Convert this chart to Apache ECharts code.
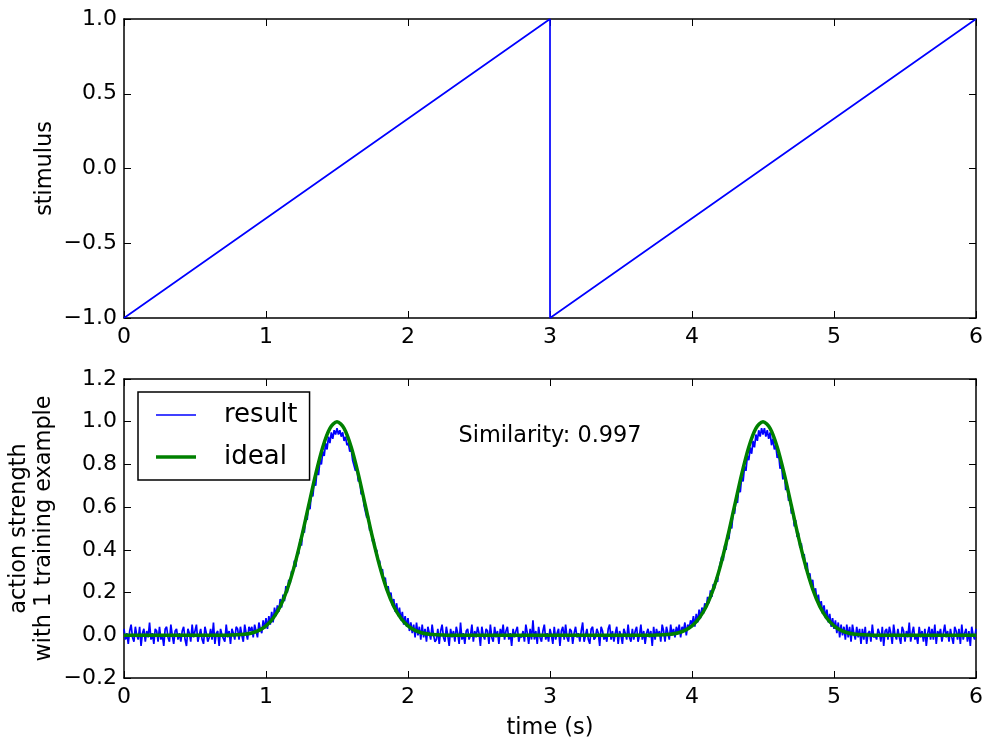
<!DOCTYPE html>
<html>
<head>
<meta charset="utf-8">
<title>stimulus / action strength</title>
<script src="https://cdn.jsdelivr.net/npm/echarts@6/dist/echarts.min.js"></script>
<style>
    html, body { margin: 0; padding: 0; background: #fff; }
    #main { width: 992px; height: 748px; }
</style>
</head>
<body>
<div id="main"></div>
<script>
// top panel: sawtooth stimulus
var stimTime  = [0, 3, 3, 6];
var stimValue = [-1, 1, -1, 1];

// bottom panel: ideal response, sampled every 0.05 s
var idealStep = 0.05;
var idealValue = [
    0, 0, 0, 0, 0, 0, 0, 0, 0, 0,
    0, 0, 0, 0, 0, 0.001, 0.002, 0.005, 0.011, 0.023,
    0.044, 0.080, 0.135, 0.216, 0.325, 0.458, 0.607, 0.755, 0.882, 0.969,
    1.000, 0.969, 0.882, 0.755, 0.607, 0.458, 0.325, 0.216, 0.135, 0.080,
    0.044, 0.023, 0.011, 0.005, 0.002, 0.001, 0, 0, 0, 0,
    0, 0, 0, 0, 0, 0, 0, 0, 0, 0,
    0, 0, 0, 0, 0, 0, 0, 0, 0, 0,
    0, 0, 0, 0, 0, 0.001, 0.002, 0.005, 0.011, 0.023,
    0.044, 0.080, 0.135, 0.216, 0.325, 0.458, 0.607, 0.755, 0.882, 0.969,
    1.000, 0.969, 0.882, 0.755, 0.607, 0.458, 0.325, 0.216, 0.135, 0.080,
    0.044, 0.023, 0.011, 0.005, 0.002, 0.001, 0, 0, 0, 0,
    0, 0, 0, 0, 0, 0, 0, 0, 0, 0,
    0
];

// bottom panel: measured (noisy) result, sampled every 0.01 s
var resultStep = 0.01;
var resultValue = [
    // 0.0 - 0.8 s
    0.03, -0.02, 0.01, -0.04, 0.02, 0.05, -0.01, -0.03, 0.04, 0.00,
    -0.02, 0.04, -0.05, 0.01, 0.03, -0.03, 0.02, -0.01, 0.06, -0.02,
    0.01, -0.04, 0.03, 0.02, -0.03, 0.04, -0.02, 0.00, -0.05, 0.03,
    0.04, -0.01, -0.03, 0.05, 0.00, -0.04, 0.02, 0.03, -0.02, 0.01,
    -0.03, 0.02, 0.04, -0.02, -0.05, 0.03, 0.01, -0.03, 0.05, -0.01,
    0.02, 0.05, -0.03, 0.00, 0.03, -0.02, -0.04, 0.04, 0.01, -0.03,
    -0.01, 0.03, -0.02, 0.06, -0.04, 0.01, 0.02, -0.05, 0.03, 0.00,
    0.00, -0.03, 0.05, -0.01, 0.02, -0.04, 0.03, 0.01, -0.02, 0.04,
    // 0.8 - 2.2 s, first peak
    0.03, -0.02, 0.04, 0.00, -0.03, 0.05, 0.01, -0.02, 0.04, 0.02,
    0.04, -0.01, 0.05, 0.02, -0.01, 0.06, 0.03, 0.01, 0.07, 0.03,
    0.08, 0.03, 0.09, 0.05, 0.11, 0.06, 0.13, 0.09, 0.14, 0.11,
    0.17, 0.13, 0.19, 0.16, 0.23, 0.20, 0.26, 0.24, 0.30, 0.29,
    0.35, 0.32, 0.39, 0.38, 0.45, 0.42, 0.50, 0.48, 0.56, 0.54,
    0.61, 0.59, 0.67, 0.65, 0.72, 0.70, 0.78, 0.75, 0.82, 0.80,
    0.86, 0.84, 0.90, 0.87, 0.93, 0.90, 0.95, 0.92, 0.96, 0.94,
    0.97, 0.94, 0.96, 0.93, 0.95, 0.91, 0.93, 0.89, 0.90, 0.86,
    0.87, 0.82, 0.82, 0.77, 0.78, 0.72, 0.73, 0.66, 0.67, 0.61,
    0.61, 0.55, 0.56, 0.49, 0.50, 0.44, 0.45, 0.39, 0.40, 0.34,
    0.35, 0.29, 0.31, 0.25, 0.27, 0.21, 0.23, 0.18, 0.20, 0.14,
    0.17, 0.11, 0.15, 0.09, 0.13, 0.07, 0.11, 0.05, 0.09, 0.04,
    0.08, 0.02, 0.06, 0.01, 0.05, -0.01, 0.06, 0.00, 0.04, -0.02,
    0.05, -0.01, 0.03, -0.03, 0.04, 0.01, -0.02, 0.05, 0.00, -0.03,
    // 2.2 - 3.8 s
    -0.02, 0.03, -0.04, 0.02, 0.05, -0.01, -0.03, 0.04, 0.00, -0.05,
    0.03, -0.01, 0.02, -0.03, 0.04, 0.01, -0.04, 0.06, -0.02, 0.01,
    -0.04, 0.02, 0.03, -0.02, 0.00, 0.05, -0.03, 0.02, -0.01, 0.04,
    0.01, -0.05, 0.04, 0.00, -0.02, 0.03, 0.02, -0.04, 0.05, -0.01,
    -0.03, 0.04, -0.01, 0.02, -0.04, 0.03, 0.00, 0.05, -0.02, 0.02,
    0.04, -0.02, 0.01, -0.05, 0.03, -0.01, 0.02, 0.04, -0.03, 0.00,
    -0.01, 0.02, -0.03, 0.05, 0.01, -0.04, 0.03, -0.02, 0.07, -0.02,
    0.02, -0.04, 0.04, -0.01, -0.03, 0.02, 0.05, -0.02, 0.01, -0.03,
    0.03, 0.00, -0.04, 0.04, -0.02, 0.01, 0.03, -0.05, 0.02, 0.04,
    -0.02, 0.05, -0.01, -0.03, 0.03, 0.02, -0.04, 0.01, 0.04, -0.01,
    0.01, -0.03, 0.02, 0.06, -0.03, 0.00, 0.03, -0.02, -0.04, 0.03,
    0.04, -0.02, -0.01, 0.03, 0.01, -0.05, 0.04, 0.02, -0.02, 0.00,
    -0.03, 0.03, 0.05, -0.02, 0.02, -0.03, 0.01, 0.04, -0.04, 0.02,
    0.00, -0.04, 0.03, 0.01, -0.02, 0.05, -0.01, -0.03, 0.03, -0.02,
    0.02, 0.04, -0.03, 0.00, 0.05, -0.02, 0.02, -0.04, 0.01, 0.03,
    -0.01, 0.02, -0.05, 0.04, -0.02, 0.03, 0.00, 0.02, -0.03, 0.05,
    // 3.8 - 5.2 s, second peak
    0.02, -0.03, 0.04, 0.01, -0.02, 0.05, 0.00, 0.03, -0.01, 0.04,
    0.01, 0.05, -0.01, 0.04, 0.02, 0.06, 0.00, 0.05, 0.03, 0.07,
    0.05, 0.09, 0.04, 0.10, 0.06, 0.12, 0.08, 0.13, 0.10, 0.15,
    0.13, 0.18, 0.15, 0.21, 0.18, 0.24, 0.22, 0.27, 0.25, 0.31,
    0.31, 0.37, 0.35, 0.42, 0.40, 0.47, 0.45, 0.52, 0.50, 0.58,
    0.57, 0.64, 0.62, 0.69, 0.67, 0.74, 0.72, 0.79, 0.77, 0.84,
    0.82, 0.88, 0.85, 0.91, 0.88, 0.94, 0.91, 0.96, 0.93, 0.97,
    0.94, 0.97, 0.93, 0.96, 0.92, 0.95, 0.89, 0.92, 0.87, 0.89,
    0.83, 0.85, 0.78, 0.80, 0.73, 0.76, 0.68, 0.70, 0.63, 0.64,
    0.57, 0.59, 0.51, 0.54, 0.46, 0.48, 0.41, 0.43, 0.36, 0.38,
    0.31, 0.34, 0.27, 0.29, 0.23, 0.26, 0.19, 0.22, 0.16, 0.19,
    0.13, 0.16, 0.10, 0.14, 0.08, 0.12, 0.06, 0.10, 0.04, 0.08,
    0.03, 0.07, 0.01, 0.06, -0.01, 0.05, 0.00, 0.04, -0.02, 0.05,
    -0.01, 0.04, -0.03, 0.05, 0.01, -0.02, 0.04, -0.01, 0.03, -0.04,
    // 5.2 - 6.0 s
    0.03, -0.02, 0.04, -0.04, 0.01, 0.02, -0.03, 0.05, -0.01, 0.00,
    -0.02, 0.03, 0.01, -0.03, 0.04, -0.05, 0.02, 0.03, -0.02, 0.04,
    0.01, -0.04, 0.05, 0.00, -0.02, 0.03, -0.01, -0.04, 0.04, 0.02,
    -0.03, 0.02, -0.01, 0.06, -0.03, 0.01, 0.04, -0.02, 0.00, -0.04,
    0.04, -0.01, 0.02, -0.03, 0.03, -0.05, 0.01, 0.04, -0.02, 0.03,
    -0.02, 0.05, -0.04, 0.02, 0.00, 0.03, -0.03, 0.01, 0.05, -0.01,
    0.02, -0.03, 0.03, -0.01, -0.04, 0.04, 0.02, -0.02, 0.03, -0.04,
    0.05, -0.02, 0.01, 0.03, -0.03, 0.02, -0.05, 0.04, 0.00, -0.02,
    0.03
];

var similarityText = 'Similarity: 0.997';
var similarityAt = [3, 0.93];

var FONT = 'DejaVu Sans';

function pairs(step, values) {
    return values.map(function (v, i) { return [+(i * step).toFixed(3), v]; });
}

// matplotlib-like frame: inward ticks on all four sides
function xAx(grid, pos, show) {
    return {
        type: 'value', gridIndex: grid, position: pos, min: 0, max: 6, interval: 1,
        axisLine: { show: true, onZero: false, lineStyle: { color: '#000', width: 1.5 } },
        axisTick: { show: true, inside: true, length: 7, lineStyle: { color: '#000', width: 1 } },
        axisLabel: { show: show, color: '#000', fontSize: 22, fontFamily: FONT, margin: 8 },
        splitLine: { show: false }
    };
}
function yAx(grid, pos, show, min, max, step, digits) {
    return {
        type: 'value', gridIndex: grid, position: pos, min: min, max: max, interval: step,
        axisLine: { show: true, onZero: false, lineStyle: { color: '#000', width: 1.5 } },
        axisTick: { show: true, inside: true, length: 7, lineStyle: { color: '#000', width: 1 } },
        axisLabel: {
            show: show, color: '#000', fontSize: 22, fontFamily: FONT, margin: 7,
            formatter: function (v) { return v.toFixed(digits).replace('-', '\u2212'); }
        },
        splitLine: { show: false }
    };
}

var nameStyle = { color: '#000', fontSize: 22.4, fontFamily: FONT, lineHeight: 25 };

var myChart = echarts.init(document.getElementById('main'), null, { renderer: 'canvas' });

var xTopB = xAx(0, 'bottom', true);
var xBotB = xAx(1, 'bottom', true);
xBotB.name = 'time (s)';
xBotB.nameLocation = 'middle';
xBotB.nameGap = 38;
xBotB.nameMoveOverlap = false;
xBotB.nameTextStyle = nameStyle;

var yTopL = yAx(0, 'left', true, -1, 1, 0.5, 1);
yTopL.name = 'stimulus';
yTopL.nameLocation = 'middle';
yTopL.nameGap = 66;
yTopL.nameMoveOverlap = false;
yTopL.nameTextStyle = nameStyle;

var yBotL = yAx(1, 'left', true, -0.2, 1.2, 0.2, 1);
yBotL.name = 'action strength\nwith 1 training example';
yBotL.nameLocation = 'middle';
yBotL.nameGap = 67;
yBotL.nameMoveOverlap = false;
yBotL.nameTextStyle = nameStyle;

myChart.setOption({
    animation: false,
    backgroundColor: '#fff',
    textStyle: { fontFamily: FONT },
    grid: [
        { left: 124, right: 16, top: 19, height: 299, containLabel: false, outerBoundsMode: 'none' },
        { left: 124, right: 16, top: 379, height: 299, containLabel: false, outerBoundsMode: 'none' }
    ],
    xAxis: [xTopB, xAx(0, 'top', false), xBotB, xAx(1, 'top', false)],
    yAxis: [yTopL, yAx(0, 'right', false, -1, 1, 0.5, 1), yBotL, yAx(1, 'right', false, -0.2, 1.2, 0.2, 1)],
    legend: {
        orient: 'vertical',
        left: 138, top: 392,
        data: [
            { name: 'result', icon: 'path://M0,0 L40,0 L40,1.5 L0,1.5 Z' },
            { name: 'ideal', icon: 'path://M0,0 L40,0 L40,3.5 L0,3.5 Z' }
        ],
        symbolKeepAspect: true,
        itemWidth: 40, itemHeight: 26, itemGap: 16,
        padding: [10, 12, 10, 18],
        backgroundColor: '#fff',
        borderColor: '#000', borderWidth: 1.5, borderRadius: 0,
        textStyle: { color: '#000', fontSize: 26, fontFamily: FONT, padding: [0, 0, 0, 23] }
    },
    series: [
        {
            name: 'stimulus', type: 'line', xAxisIndex: 0, yAxisIndex: 0,
            data: stimTime.map(function (t, i) { return [t, stimValue[i]]; }),
            symbol: 'none', lineStyle: { color: '#0000ff', width: 1.7 }, itemStyle: { color: '#0000ff' }
        },
        {
            name: 'result', type: 'line', xAxisIndex: 2, yAxisIndex: 2,
            data: pairs(resultStep, resultValue),
            symbol: 'none', lineStyle: { color: '#0000ff', width: 1.7 }, itemStyle: { color: '#0000ff' }
        },
        {
            name: 'ideal', type: 'line', xAxisIndex: 2, yAxisIndex: 2,
            data: pairs(idealStep, idealValue),
            symbol: 'none', smooth: 0.3,
            lineStyle: { color: '#008000', width: 3.5 }, itemStyle: { color: '#008000' }
        }
    ]
});

// annotation placed in data coordinates of the bottom panel
var p = myChart.convertToPixel({ xAxisIndex: 2, yAxisIndex: 2 }, similarityAt);
myChart.setOption({
    graphic: [{
        type: 'text', x: p[0], y: p[1], z: 100,
        style: { text: similarityText, fill: '#000', font: '22.4px "DejaVu Sans"', textAlign: 'center', textVerticalAlign: 'middle' }
    }]
});
</script>
</body>
</html>
